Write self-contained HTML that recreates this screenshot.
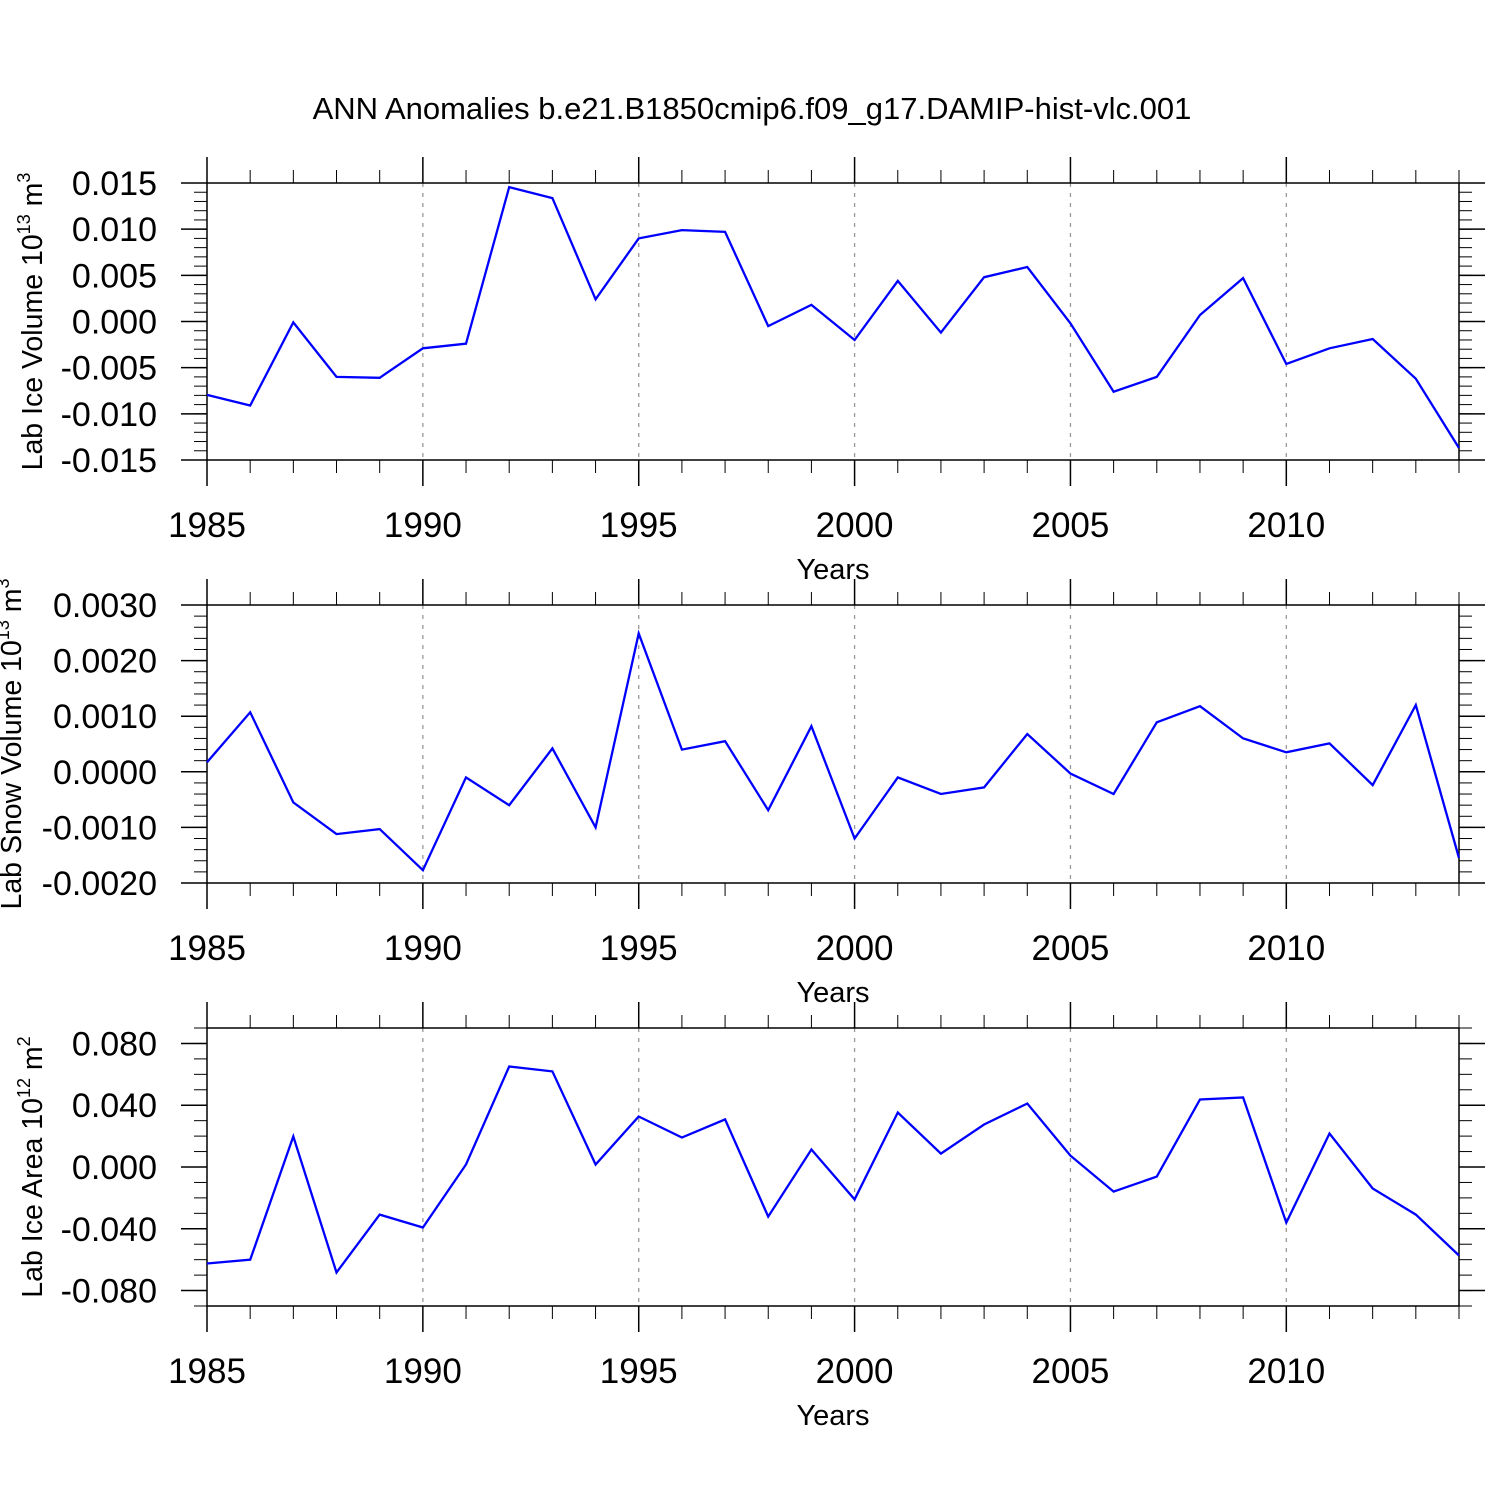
<!DOCTYPE html>
<html><head><meta charset="utf-8"><style>
html,body{margin:0;padding:0;background:#fff;}
svg{display:block;font-family:"Liberation Sans",Arial,sans-serif;}
</style></head><body>
<svg id="chart" width="1500" height="1500" xmlns="http://www.w3.org/2000/svg">
<text x="752" y="119" font-size="31" text-anchor="middle">ANN Anomalies b.e21.B1850cmip6.f09_g17.DAMIP-hist-vlc.001</text>
</svg>
<script>
const years = [1985,1986,1987,1988,1989,1990,1991,1992,1993,1994,1995,1996,1997,1998,1999,2000,2001,2002,2003,2004,2005,2006,2007,2008,2009,2010,2011,2012,2013,2014];
const iceVolume = [-0.00795,-0.0091,-0.0001,-0.006,-0.0061,-0.0029,-0.0024,0.01456,0.01337,0.0024,0.0090,0.0099,0.0097,-0.0005,0.0018,-0.002,0.0044,-0.0012,0.0048,0.0059,-0.0002,-0.0076,-0.006,0.0007,0.0047,-0.0046,-0.0029,-0.0019,-0.0062,-0.0137];
const snowVolume = [0.00017,0.00107,-0.00055,-0.00112,-0.00103,-0.00177,-0.0001,-0.0006,0.00042,-0.001,0.00249,0.0004,0.00055,-0.00069,0.00082,-0.0012,-0.0001,-0.0004,-0.00028,0.00068,-0.00003,-0.0004,0.00089,0.00118,0.0006,0.00035,0.00051,-0.00024,0.0012,-0.00155];
const iceArea = [-0.0625,-0.060,0.0198,-0.0683,-0.0308,-0.0392,0.0016,0.0651,0.0619,0.0016,0.0327,0.0191,0.0308,-0.0321,0.0113,-0.021,0.0353,0.0087,0.0275,0.0411,0.0074,-0.0159,-0.0062,0.0437,0.045,-0.036,0.0217,-0.0139,-0.0308,-0.0573];
const xTickLabels = ["1985","1990","1995","2000","2005","2010"];
const yTicks1 = ["0.015","0.010","0.005","0.000","-0.005","-0.010","-0.015"];
const yTicks2 = ["0.0030","0.0020","0.0010","0.0000","-0.0010","-0.0020"];
const yTicks3 = ["0.080","0.040","0.000","-0.040","-0.080"];

const NS="http://www.w3.org/2000/svg";
const svg=document.getElementById('chart');
function mk(tag,attrs,parent){const e=document.createElementNS(NS,tag);for(const k in attrs)e.setAttribute(k,attrs[k]);(parent||svg).appendChild(e);return e;}
const X0=207,X1=1459;
function xs(yr){return X0+(yr-1985)/(2014-1985)*(X1-X0);}

function panel(name,top,bot,ymin,ymax,yticks,minorStep,data,labelParts,labelX){
  const g=mk('g',{});
  
  
  const ys=v=>bot-(v-ymin)/(ymax-ymin)*(bot-top);
  for(let y=1990;y<=2010;y+=5){
    const l=mk('line',{x1:xs(y),x2:xs(y),y1:top,y2:bot,stroke:'#999','stroke-width':1.3,'stroke-dasharray':'4,6'},g);
    
    
  }
  for(let y=1985;y<=2014;y++){
    const major=(y%5===0);const len=major?26:13;
    mk('line',{x1:xs(y),x2:xs(y),y1:top,y2:top-len,stroke:'#000','stroke-width':major?1.5:1},g);
    mk('line',{x1:xs(y),x2:xs(y),y1:bot,y2:bot+len,stroke:'#000','stroke-width':major?1.5:1},g);
  }
  xTickLabels.forEach(t=>{
    const tx=mk('text',{x:xs(+t),y:bot+77,'font-size':35,'text-anchor':'middle'},g);
    
    
    tx.textContent=t;
  });
  const xt=mk('text',{x:833,y:bot+119,'font-size':29,'text-anchor':'middle'},g);
  
  
  xt.textContent='Years';
  const n=Math.round((ymax-ymin)/minorStep);
  for(let i=0;i<=n;i++){
    const v=ymin+i*minorStep;const yy=ys(v);
    mk('line',{x1:X0,x2:X0-13,y1:yy,y2:yy,stroke:'#000','stroke-width':1},g);
    mk('line',{x1:X1,x2:X1+13,y1:yy,y2:yy,stroke:'#000','stroke-width':1},g);
  }
  yticks.forEach(t=>{
    const yy=ys(parseFloat(t));
    mk('line',{x1:X0,x2:X0-26,y1:yy,y2:yy,stroke:'#000','stroke-width':1.5},g);
    mk('line',{x1:X1,x2:X1+26,y1:yy,y2:yy,stroke:'#000','stroke-width':1.5},g);
    const tx=mk('text',{x:157,y:yy+12,'font-size':34,'text-anchor':'end'},g);
    
    
    tx.textContent=t;
  });
  const fr=mk('rect',{x:X0,y:top,width:X1-X0,height:bot-top,fill:'none',stroke:'#000','stroke-width':1.5},g);
  
  
  const pts=data.map((v,i)=>xs(years[i]).toFixed(1)+','+ys(v).toFixed(1)).join(' ');
  const pl=mk('polyline',{points:pts,fill:'none',stroke:'#0000ff','stroke-width':2.3,'stroke-linejoin':'miter'},g);
  
  
  const cy=(top+bot)/2;
  const yl=mk('text',{x:labelX,y:cy,'font-size':28.5,'text-anchor':'middle',transform:`rotate(-90 ${labelX} ${cy})`},g);
  
  
  const s1=mk('tspan',{},yl);s1.textContent=labelParts[0];
  const s2=mk('tspan',{dy:-12,'font-size':18},yl);s2.textContent=labelParts[1];
  const s3=mk('tspan',{dy:12},yl);s3.textContent=' m';
  const s4=mk('tspan',{dy:-12,'font-size':18},yl);s4.textContent=labelParts[2];
}
panel('ice-volume',183,460,-0.015,0.015,yTicks1,0.001,iceVolume,['Lab Ice Volume 10','13','3'],42);
panel('snow-volume',605,883,-0.002,0.003,yTicks2,0.0002,snowVolume,['Lab Snow Volume 10','13','3'],21);
panel('ice-area',1028,1306,-0.09,0.09,yTicks3,0.01,iceArea,['Lab Ice Area 10','12','2'],42);
</script>
</body></html>
